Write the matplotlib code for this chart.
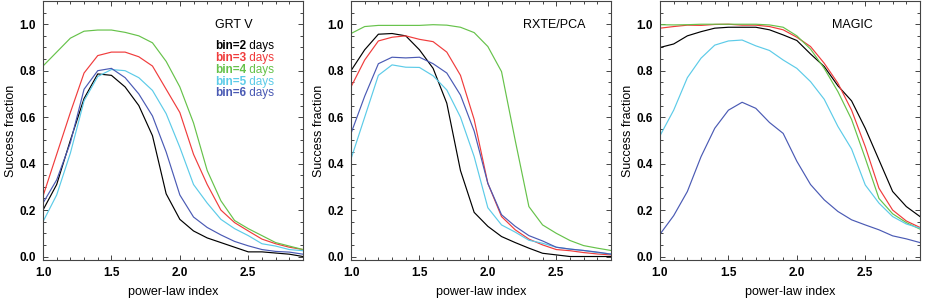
import numpy as np
import matplotlib
matplotlib.use("Agg")
import matplotlib.pyplot as plt
from matplotlib.ticker import MultipleLocator, FormatStrFormatter

plt.rcParams['font.family'] = ['Liberation Sans', 'DejaVu Sans']

x = [1.0, 1.1, 1.2, 1.3, 1.4, 1.5, 1.6, 1.7, 1.8, 1.9,
     2.0, 2.1, 2.2, 2.3, 2.4, 2.5, 2.6, 2.7, 2.8, 2.9]

bins = ["bin=2", "bin=3", "bin=4", "bin=5", "bin=6"]
colors = ["#000000", "#f03c3c", "#66c24a", "#5ccbe8", "#4a5ab4"]

# GRT V
grt_b2 = [0.20, 0.31, 0.50, 0.68, 0.786, 0.78, 0.73, 0.65, 0.52, 0.27,
          0.16, 0.11, 0.08, 0.06, 0.04, 0.02, 0.02, 0.015, 0.01, 0.0]
grt_b3 = [0.26, 0.44, 0.62, 0.79, 0.865, 0.88, 0.88, 0.86, 0.82, 0.72,
          0.62, 0.44, 0.31, 0.20, 0.146, 0.11, 0.075, 0.055, 0.04, 0.03]
grt_b4 = [0.82, 0.88, 0.94, 0.97, 0.975, 0.975, 0.965, 0.95, 0.92, 0.84,
          0.73, 0.575, 0.37, 0.24, 0.155, 0.12, 0.09, 0.06, 0.045, 0.03]
grt_b5 = [0.15, 0.265, 0.445, 0.67, 0.775, 0.805, 0.80, 0.77, 0.715, 0.615,
          0.47, 0.31, 0.23, 0.16, 0.12, 0.09, 0.055, 0.045, 0.03, 0.025]
grt_b6 = [0.23, 0.33, 0.49, 0.72, 0.80, 0.81, 0.77, 0.70, 0.605, 0.45,
          0.265, 0.17, 0.125, 0.093, 0.065, 0.046, 0.03, 0.022, 0.019, 0.01]

# RXTE/PCA
rxte_b2 = [0.80, 0.89, 0.957, 0.96, 0.95, 0.89, 0.81, 0.66, 0.37, 0.19,
           0.13, 0.086, 0.06, 0.036, 0.014, 0.007, 0.0, 0.0, 0.0, 0.0]
rxte_b3 = [0.73, 0.846, 0.928, 0.944, 0.95, 0.935, 0.925, 0.88, 0.78, 0.59,
           0.315, 0.172, 0.115, 0.075, 0.05, 0.03, 0.025, 0.017, 0.011, 0.007]
rxte_b4 = [0.96, 0.99, 0.995, 0.995, 0.995, 0.995, 0.998, 0.996, 0.987, 0.964,
           0.904, 0.796, 0.50, 0.215, 0.136, 0.10, 0.069, 0.047, 0.036, 0.026]
rxte_b5 = [0.42, 0.60, 0.78, 0.825, 0.815, 0.814, 0.778, 0.717, 0.60, 0.43,
           0.21, 0.136, 0.105, 0.07, 0.057, 0.04, 0.032, 0.026, 0.017, 0.011]
rxte_b6 = [0.53, 0.69, 0.83, 0.858, 0.855, 0.858, 0.83, 0.79, 0.695, 0.54,
           0.315, 0.18, 0.13, 0.09, 0.067, 0.04, 0.032, 0.026, 0.019, 0.01]

# MAGIC
magic_b2 = [0.90, 0.915, 0.95, 0.968, 0.983, 0.987, 0.987, 0.987, 0.976, 0.954,
            0.93, 0.872, 0.818, 0.735, 0.67, 0.552, 0.416, 0.28, 0.215, 0.172]
magic_b3 = [0.983, 0.99, 0.996, 0.995, 0.999, 1.0, 0.996, 0.996, 0.99, 0.976,
            0.944, 0.904, 0.832, 0.746, 0.63, 0.473, 0.294, 0.20, 0.153, 0.125]
magic_b4 = [0.998, 0.997, 0.998, 1.0, 1.0, 1.0, 1.0, 1.0, 0.997, 0.987,
            0.95, 0.893, 0.81, 0.71, 0.59, 0.423, 0.25, 0.184, 0.146, 0.118]
magic_b5 = [0.52, 0.63, 0.77, 0.854, 0.91, 0.928, 0.932, 0.907, 0.887, 0.846,
            0.81, 0.753, 0.677, 0.56, 0.463, 0.308, 0.23, 0.172, 0.14, 0.122]
magic_b6 = [0.096, 0.176, 0.28, 0.43, 0.552, 0.63, 0.664, 0.638, 0.577, 0.53,
            0.41, 0.31, 0.244, 0.194, 0.158, 0.136, 0.115, 0.089, 0.076, 0.06]

panels = [
    ("GRT V", [grt_b2, grt_b3, grt_b4, grt_b5, grt_b6]),
    ("RXTE/PCA", [rxte_b2, rxte_b3, rxte_b4, rxte_b5, rxte_b6]),
    ("MAGIC", [magic_b2, magic_b3, magic_b4, magic_b5, magic_b6]),
]

W, H = 926, 301
fig = plt.figure(figsize=(W / 100, H / 100), dpi=100)
lefts = [43, 351, 660]
for i, (title, series) in enumerate(panels):
    ax = fig.add_axes([lefts[i] / W, (H - 260) / H, 260 / W, 259 / H])
    for s, c in zip(series, colors):
        ax.plot(x, s, color=c, lw=0.85)
    ax.set_xlim(1.0, 2.9)
    ax.set_ylim(-0.015, 1.1)
    ax.xaxis.set_major_locator(MultipleLocator(0.5))
    ax.xaxis.set_minor_locator(MultipleLocator(0.1))
    ax.yaxis.set_major_locator(MultipleLocator(0.2))
    ax.yaxis.set_minor_locator(MultipleLocator(0.05))
    ax.xaxis.set_major_formatter(FormatStrFormatter('%.1f'))
    ax.yaxis.set_major_formatter(FormatStrFormatter('%.1f'))
    ax.tick_params(which='both', direction='in', top=True, right=True,
                   color='#444444', width=0.7)
    ax.tick_params(which='major', length=3.5, labelsize=8.5, pad=5)
    ax.tick_params(which='minor', length=2)
    for lab in ax.get_xticklabels() + ax.get_yticklabels():
        lab.set_fontweight('bold')
    for sp in ax.spines.values():
        sp.set_color('#444444')
        sp.set_linewidth(0.8)
    ax.set_xlabel("power-law index", fontsize=9, labelpad=5)
    ax.set_ylabel("Success fraction", fontsize=9, labelpad=2)
    ax.text(2.255, 0.997, title, fontsize=9, va='center', ha='left')
    if i == 0:
        ys = [0.908, 0.854, 0.803, 0.753, 0.703]
        for b, c, yy in zip(bins, colors, ys):
            t = ax.text(2.255, yy, b, fontsize=8.5, fontweight='bold',
                        color=c, va='center', ha='left')
            ax.annotate(" days", xy=(1, 0.5), xycoords=t, fontsize=8.5,
                        color=c, va='center', ha='left')

fig.savefig("out.png", dpi=100)
